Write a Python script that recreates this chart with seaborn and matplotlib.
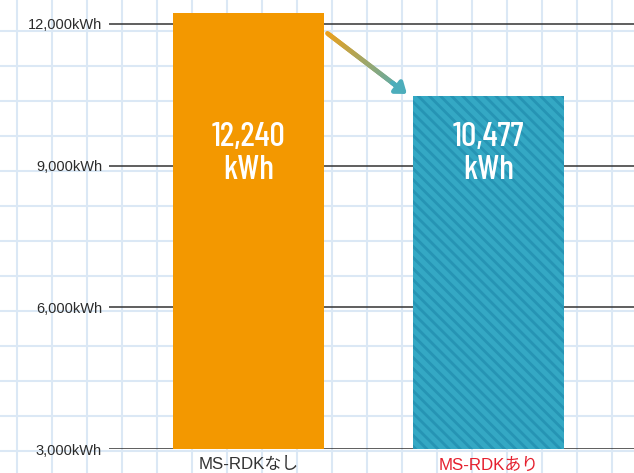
import numpy as np
import matplotlib
matplotlib.use("Agg")
import matplotlib.pyplot as plt
import matplotlib.transforms as mtransforms
from matplotlib.collections import LineCollection
import seaborn as sns

# data
categories = ["MS-RDKなし", "MS-RDKあり"]
energy_kwh = [12240, 10477]
value_labels = ["12,240\nkWh", "10,477\nkWh"]
y_ticks = [3000, 6000, 9000, 12000]
y_tick_labels = ["3,000kWh", "6,000kWh", "9,000kWh", "12,000kWh"]

orange = "#f39800"
teal = "#34a8c4"
stripe = "#2694b4"
label_colors = ["#333333", "#e5202e"]

sns.set_style("white")
plt.rcParams["font.family"] = ["Liberation Sans", "Noto Sans CJK JP", "DejaVu Sans"]
plt.rcParams["hatch.linewidth"] = 2.0
plt.rcParams["hatch.color"] = stripe

fig = plt.figure(figsize=(6.34, 4.73), dpi=100)

# graph-paper background
bg = fig.add_axes([0, 0, 1, 1], zorder=0)
bg.set_xlim(0, 634)
bg.set_ylim(473, 0)
bg.axis("off")
for gx in np.arange(17, 634, 35):
    bg.axvline(gx, color="#dbe8f5", lw=1.5)
for gy in np.arange(31, 473, 35):
    bg.axhline(gy, color="#dbe8f5", lw=1.5)

ax = fig.add_axes([109 / 634, 24 / 473, 525 / 634, 449 / 473], zorder=1)
ax.set_facecolor("none")
sns.barplot(x=categories, y=energy_kwh, hue=categories, palette=[orange, teal],
            legend=False, width=0.63, saturation=1, ax=ax, zorder=2)

bars = ax.patches
bars[0].set_linewidth(0)
bars[1].set_hatch("\\\\\\")
bars[1].set_edgecolor(stripe)
bars[1].set_linewidth(0)

ax.set_xlim(-0.581, 1.606)
ax.set_ylim(3000, 12506)
ax.set_yticks(y_ticks)
ax.set_yticklabels(y_tick_labels, fontsize=10.5, color="#2b2b2b")
ax.set_axisbelow(True)
ax.yaxis.grid(True, color="#333333", lw=1.1)
ax.xaxis.grid(False)
ax.tick_params(axis="y", length=0, pad=5)
ax.tick_params(axis="x", length=0, pad=6, labelsize=12.2)
for lbl, c in zip(ax.get_xticklabels(), label_colors):
    lbl.set_color(c)
for s in ax.spines.values():
    s.set_visible(False)
ax.set_xlabel("")
ax.set_ylabel("")

# values inside bars
trans = mtransforms.blended_transform_factory(ax.transData, ax.transAxes)
for i, txt in enumerate(value_labels):
    ax.text(i, 0.657, txt, transform=trans, ha="center", va="center",
            color="white", fontsize=24.5, fontweight=500, linespacing=1.1,
            family=["Barlow Condensed", "Roboto Condensed", "DejaVu Sans"], zorder=5)

# gradient arrow between bar tops
half = 0.63 / 2
x0, y0 = 0 + half + 0.014, energy_kwh[0] - 440
x1, y1 = 1 - half - 0.025, energy_kwh[1] + 40
n = 60
t = np.linspace(0, 1, n + 1)
xs = x0 + (x1 - x0) * t
ys = y0 + (y1 - y0) * t
segs = np.stack([np.column_stack([xs[:-1], ys[:-1]]), np.column_stack([xs[1:], ys[1:]])], axis=1)
c0 = np.array(matplotlib.colors.to_rgb("#eca01c"))
c1 = np.array(matplotlib.colors.to_rgb("#4cadbb"))
cols = [c0 + (c1 - c0) * v for v in t[:-1]]
lc = LineCollection(segs[:-8], colors=cols[:-8], linewidths=3.4, capstyle="round", zorder=6)
ax.add_collection(lc)
ax.annotate("", xy=(x1, y1), xytext=(xs[-12], ys[-12]),
            arrowprops=dict(arrowstyle="-|>,head_length=0.6,head_width=0.45",
                            color="#4cadbb", lw=3.4, shrinkA=0, shrinkB=0),
            zorder=7)

fig.savefig("out.png", dpi=100)
